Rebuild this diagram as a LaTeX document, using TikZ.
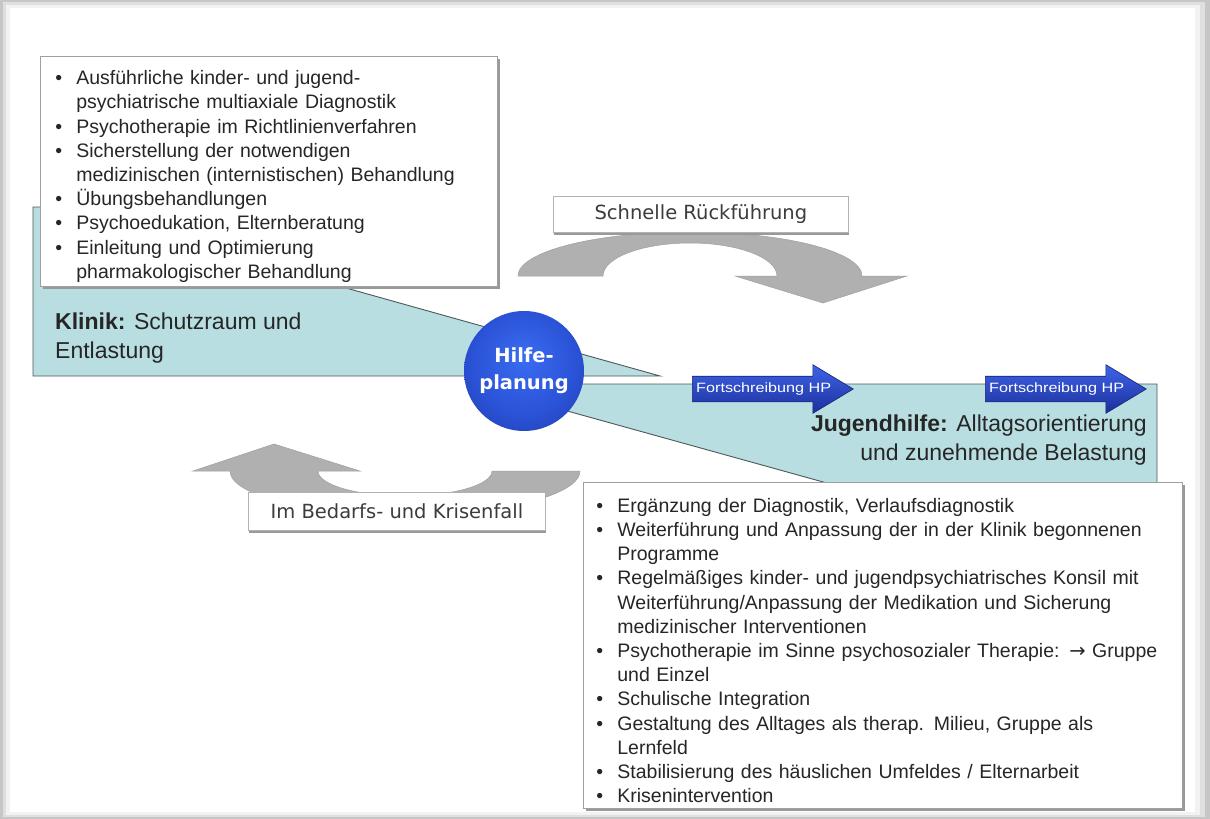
\documentclass[tikz,border=0pt]{standalone}
\usepackage{fontspec}
\setmainfont{Liberation Sans}
\newfontfamily\verd{DejaVu Sans}
\usetikzlibrary{positioning, shapes.arrows, shadows}

\definecolor{tuerkis}{HTML}{B8DEE1}
\definecolor{rand}{HTML}{4E5858}
\definecolor{pfeilgrau}{HTML}{B0B0B0}
\definecolor{schrift}{HTML}{262626}
\definecolor{hkhell}{HTML}{3A6CF2}
\definecolor{hkmittel}{HTML}{2A52D6}
\definecolor{hkrand}{HTML}{1F37A2}
\definecolor{hkdunkel}{HTML}{15216A}
\definecolor{fsoben}{HTML}{3F64E8}
\definecolor{fsmitte}{HTML}{2E52DA}
\definecolor{fsunten}{HTML}{1C2F9C}
\definecolor{fsrand}{HTML}{16246E}
\pgfdeclareradialshading{kugel}{\pgfpoint{0bp}{6bp}}{color(0bp)=(hkhell); color(22bp)=(hkmittel); color(40bp)=(hkrand); color(50bp)=(hkdunkel)}

\newcommand{\punkt}{\par\noindent\hangindent=21pt\hangafter=1\makebox[21pt][l]{\textbullet}}

\begin{document}
\begin{tikzpicture}[x=1pt, y=-1pt,
	flaeche/.style={fill=tuerkis, draw=rand, line width=0.9pt},
	bogen/.style={fill=pfeilgrau, draw=gray!75, line width=0.5pt},
	liste/.style={draw=gray!75, fill=white, line width=0.8pt, anchor=north west,
		drop shadow={shadow xshift=3pt, shadow yshift=-3pt, fill=gray!80, opacity=1},
		inner ysep=0pt, align=left, text=schrift, font=\fontsize{19.5}{24.2}\selectfont},
	kasten/.style={draw=gray!60, fill=white, line width=0.8pt, anchor=north west,
		drop shadow={shadow xshift=1pt, shadow yshift=-3pt, fill=gray!80, opacity=1},
		inner sep=0pt, text=schrift!90, font=\verd\fontsize{19.5}{22}\selectfont},
	fspfeil/.style={single arrow, single arrow head extend=11.5pt, single arrow tip angle=62,
		minimum height=161pt, text height=9pt, text depth=2.5pt, inner ysep=6.75pt, inner xsep=0pt,
		draw=fsrand, line width=0.6pt, top color=fsoben, middle color=fsmitte, bottom color=fsunten,
		anchor=tail},
	fstext/.style={text=white, inner sep=0pt, font=\fontsize{13.5}{14}\selectfont},
	titel/.style={text=schrift, inner sep=0pt, font=\fontsize{23}{29}\selectfont}]
	\useasboundingbox (0,0) rectangle (1210,819);
	\fill[gray!45] (0,0) rectangle (1210,819);
	\fill[gray!25] (3,2) rectangle (1205,817);
	\fill[gray!10] (6,5) rectangle (1200,815);
	\fill[white] (10,8) rectangle (1195,812);
	
	\filldraw[flaeche] (33,207) -- (100,207) -- (100,219) -- (660,376) -- (33,376) -- cycle;
	\filldraw[flaeche] (470,384) -- (1157,384) -- (1157,495) -- (870,495) -- cycle;
	
	\filldraw[bogen] (518,276) arc[start angle=180, end angle=0, x radius=172pt, y radius=44pt]
		-- (907,276) -- (823,303) -- (735,276) -- (777,276)
		arc[start angle=0, end angle=180, x radius=87pt, y radius=33pt] -- cycle;
	\filldraw[bogen] (580,471) arc[start angle=0, end angle=-180, x radius=175pt, y radius=44pt]
		-- (193,471) -- (274,444) -- (360,471) -- (318,471)
		arc[start angle=180, end angle=360, x radius=87pt, y radius=25pt] -- cycle;
	
	\node[liste, text width=427pt, inner xsep=15pt, minimum height=230pt] (klinikliste) at (40,56) {%
		\punkt Ausführliche kinder- und jugend-\newline psychiatrische multiaxiale Diagnostik
		\punkt Psychotherapie im Richtlinienverfahren
		\punkt Sicherstellung der notwendigen\newline medizinischen (internistischen) Behandlung
		\punkt Übungsbehandlungen
		\punkt Psychoedukation, Elternberatung
		\punkt Einleitung und Optimierung\newline pharmakologischer Behandlung\par};
	\node[liste, text width=573pt, inner xsep=13pt, minimum height=326pt] (jugendliste) at (583,482) {%
		\punkt Ergänzung der Diagnostik, Verlaufsdiagnostik
		\punkt Weiterführung und Anpassung der in der Klinik begonnenen\newline Programme
		\punkt Regelmäßiges kinder- und jugendpsychiatrisches Konsil mit\newline Weiterführung/Anpassung der Medikation und Sicherung\newline medizinischer Interventionen
		\punkt Psychotherapie im Sinne psychosozialer Therapie: {\verd→} Gruppe\newline und Einzel
		\punkt Schulische Integration
		\punkt Gestaltung des Alltages als therap. Milieu, Gruppe als\newline Lernfeld
		\punkt Stabilisierung des häuslichen Umfeldes / Elternarbeit
		\punkt Krisenintervention\par};
	
	\node[kasten, minimum width=295pt, minimum height=36pt] (rueck) at (553,196) {Schnelle Rückführung};
	\node[kasten, minimum width=297pt, minimum height=38pt] (krise) at (248,492) {Im Bedarfs- und Krisenfall};
	
	\node[titel, anchor=west, align=left] (klinik) at (55,338) {\textbf{Klinik:} Schutzraum und\\Entlastung};
	\node[titel, anchor=east, align=right] (jugend) at (1147,440) {\textbf{Jugendhilfe:} Alltagsorientierung\\und zunehmende Belastung};
	
	\node[fspfeil] (fs1) at (692,389) {};
	\node[fspfeil] (fs2) at (985,389) {};
	\node[fstext, right=4pt of fs1.tail] (fs1t) {\scalebox{1.2}[1]{Fortschreibung HP}};
	\node[fstext, right=4pt of fs2.tail] (fs2t) {\scalebox{1.2}[1]{Fortschreibung HP}};
	
	\node[circle, minimum size=120pt, shading=kugel, text=white, align=center,
		font=\verd\bfseries\fontsize{19.5}{27}\selectfont] (hp) at (524,371) {Hilfe-\\planung};
\end{tikzpicture}
\end{document}
